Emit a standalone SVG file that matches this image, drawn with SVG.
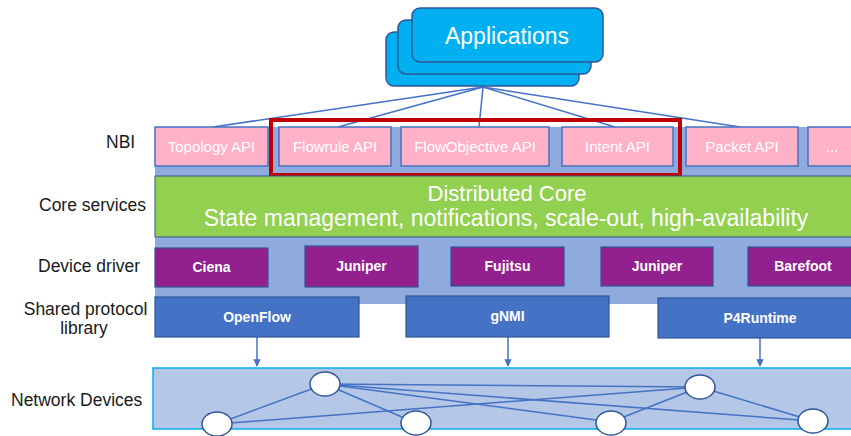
<svg xmlns="http://www.w3.org/2000/svg" width="851" height="436" viewBox="0 0 851 436">
<style>
.lbl{font-family:"Liberation Sans",Arial,sans-serif;font-size:17.5px;fill:#1a1a1a}
.app{fill:#00B0F0;stroke:#2F5597;stroke-width:1.5}
.nbi{fill:#FFB1C8;stroke:#4472C4;stroke-width:1.5}
.nbit{font-family:"Liberation Sans",Arial,sans-serif;font-size:15px;fill:#fff;text-anchor:middle}
.drv{fill:#93208F;stroke:#2F5597;stroke-width:1.2}
.prt{fill:#4472C4;stroke:#2F5597;stroke-width:1.2}
.bt{font-family:"Liberation Sans",Arial,sans-serif;font-size:14px;font-weight:bold;fill:#fff;text-anchor:middle}
.conn{stroke:#4472C4;stroke-width:1.5;fill:none}
.dev{fill:#fff;stroke:#2F5597;stroke-width:1.5}
.core{font-family:"Liberation Sans",Arial,sans-serif;fill:#fff;text-anchor:middle}
</style>
<defs>
<marker id="ah" viewBox="0 0 10 10" refX="9" refY="5" markerWidth="5" markerHeight="5" orient="auto"><path d="M0,0L10,5L0,10z" fill="#4472C4"/></marker>
</defs>
<g id="labels">
<text class="lbl" x="106" y="148">NBI</text>
<text class="lbl" x="39" y="211">Core services</text>
<text class="lbl" x="38" y="272">Device driver</text>
<text class="lbl" x="85.5" y="315" text-anchor="middle">Shared protocol</text>
<text class="lbl" x="84" y="334" text-anchor="middle">library</text>
<text class="lbl" x="11" y="406">Network Devices</text>
</g>
<rect id="band" x="155" y="127" width="696" height="177" fill="#8FAADC"/>
<g id="connectors">
<line class="conn" x1="483" y1="87" x2="213" y2="127"/>
<line class="conn" x1="483" y1="87" x2="338" y2="127"/>
<line class="conn" x1="483" y1="87" x2="479" y2="127"/>
<line class="conn" x1="483" y1="87" x2="615" y2="127"/>
<line class="conn" x1="483" y1="87" x2="740" y2="127"/>
<line class="conn" x1="257" y1="337" x2="257" y2="366" marker-end="url(#ah)"/>
<line class="conn" x1="508" y1="337" x2="508" y2="366" marker-end="url(#ah)"/>
<line class="conn" x1="760" y1="338" x2="760" y2="366" marker-end="url(#ah)"/>
</g>
<g id="applications">
<rect class="app" x="386" y="32" width="193" height="54" rx="8"/>
<rect class="app" x="398" y="20" width="193" height="54" rx="8"/>
<rect class="app" x="412" y="8" width="191" height="54" rx="8"/>
<text x="507" y="44" text-anchor="middle" font-family="'Liberation Sans',Arial,sans-serif" font-size="23" fill="#fff">Applications</text>
</g>
<g id="nbi-topology"><rect class="nbi" x="155" y="127" width="113" height="39"/><text class="nbit" x="211.5" y="152">Topology API</text></g>
<g id="nbi-flowrule"><rect class="nbi" x="279" y="127" width="112" height="39"/><text class="nbit" x="335" y="152">Flowrule API</text></g>
<g id="nbi-flowobjective"><rect class="nbi" x="401" y="127" width="148" height="39"/><text class="nbit" x="475" y="152">FlowObjective API</text></g>
<g id="nbi-intent"><rect class="nbi" x="562" y="127" width="111" height="39"/><text class="nbit" x="617.5" y="152">Intent API</text></g>
<g id="nbi-packet"><rect class="nbi" x="686" y="127" width="112" height="39"/><text class="nbit" x="742" y="152">Packet API</text></g>
<g id="nbi-more"><rect class="nbi" x="808" y="127" width="50" height="39"/><text class="nbit" x="832" y="152">...</text></g>
<g id="highlight"><rect x="271" y="120" width="409" height="55" fill="none" stroke="#C00000" stroke-width="4"/></g>
<g id="core">
<rect x="155" y="176" width="700" height="61" fill="#92D050" stroke="#2F5597" stroke-width="1"/>
<text class="core" x="507" y="201" font-size="22">Distributed Core</text>
<text class="core" x="506" y="226" font-size="23">State management, notifications, scale-out, high-availability</text>
</g>
<g id="drv-ciena"><rect class="drv" x="155" y="248" width="113" height="39"/><text class="bt" x="211.5" y="272">Ciena</text></g>
<g id="drv-juniper1"><rect class="drv" x="305" y="246" width="113" height="41"/><text class="bt" x="361.5" y="271">Juniper</text></g>
<g id="drv-fujitsu"><rect class="drv" x="451" y="247" width="113" height="39"/><text class="bt" x="507.5" y="271">Fujitsu</text></g>
<g id="drv-juniper2"><rect class="drv" x="601" y="247" width="112" height="39"/><text class="bt" x="657" y="271">Juniper</text></g>
<g id="drv-barefoot"><rect class="drv" x="748" y="247" width="110" height="39"/><text class="bt" x="803" y="271">Barefoot</text></g>
<g id="proto-openflow"><rect class="prt" x="155" y="297" width="204" height="40"/><text class="bt" x="257" y="322">OpenFlow</text></g>
<g id="proto-gnmi"><rect class="prt" x="406" y="296" width="203" height="41"/><text class="bt" x="507.5" y="321">gNMI</text></g>
<g id="proto-p4runtime"><rect class="prt" x="658" y="298" width="200" height="40"/><text class="bt" x="760" y="323">P4Runtime</text></g>
<g id="network">
<rect x="153" y="368" width="700" height="61" fill="#B4C7E7" stroke="#00B0F0" stroke-width="1.5"/>
<g class="conn" stroke-width="1.3">
<line x1="325" y1="384" x2="217" y2="424"/>
<line x1="325" y1="384" x2="416" y2="423"/>
<line x1="325" y1="384" x2="611" y2="422"/>
<line x1="325" y1="384" x2="700" y2="387"/>
<line x1="325" y1="384" x2="813" y2="421"/>
<line x1="217" y1="424" x2="700" y2="387"/>
<line x1="700" y1="387" x2="611" y2="422"/>
<line x1="700" y1="387" x2="813" y2="421"/>
</g>
<ellipse class="dev" cx="325" cy="384" rx="15" ry="12"/>
<ellipse class="dev" cx="217" cy="424" rx="15" ry="12"/>
<ellipse class="dev" cx="416" cy="423" rx="15" ry="12"/>
<ellipse class="dev" cx="611" cy="423" rx="15" ry="12"/>
<ellipse class="dev" cx="700" cy="387" rx="15" ry="12"/>
<ellipse class="dev" cx="813" cy="421" rx="15" ry="12"/>
</g>
</svg>
